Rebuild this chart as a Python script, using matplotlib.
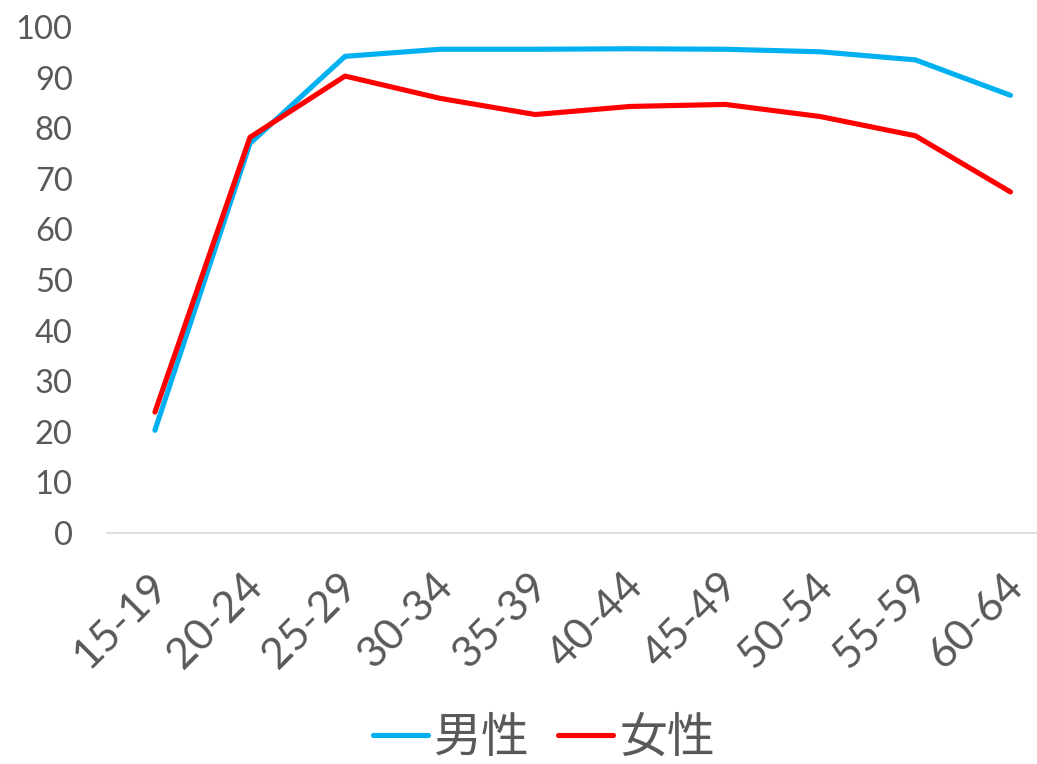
import matplotlib.pyplot as plt
import matplotlib.transforms as mtransforms

# Labour force participation by age group (%)
age_groups = ['15-19', '20-24', '25-29', '30-34', '35-39',
              '40-44', '45-49', '50-54', '55-59', '60-64']
male = [20.3, 77.0, 94.2, 95.6, 95.6, 95.7, 95.6, 95.1, 93.5, 86.5]
female = [23.9, 78.2, 90.3, 85.9, 82.7, 84.3, 84.7, 82.3, 78.5, 67.4]
y_ticks = [0, 10, 20, 30, 40, 50, 60, 70, 80, 90, 100]

W, H = 1037, 764
fig = plt.figure(figsize=(W / 100, H / 100), dpi=100)

# plot area runs a bit past the right edge of the picture (cropped chart)
left, right = 107.4, 1058.0
bottom, top = 533.0, 27.0
ax = fig.add_axes([left / W, 1 - bottom / H, (right - left) / W, (bottom - top) / H])

x = list(range(len(age_groups)))
ax.plot(x, male, color='#00B0F0', lw=3.7, solid_capstyle='round',
        solid_joinstyle='round', label='男性', clip_on=False)
ax.plot(x, female, color='#FF0000', lw=3.7, solid_capstyle='round',
        solid_joinstyle='round', label='女性', clip_on=False)

ax.set_xlim(-0.5, len(age_groups) - 0.5)
ax.set_ylim(0, 100)

for s in ['top', 'right', 'left']:
    ax.spines[s].set_visible(False)
ax.spines['bottom'].set_color('#D9D9D9')
ax.spines['bottom'].set_linewidth(1.2)

tick_font = ['Lato', 'DejaVu Sans']
ax.set_yticks(y_ticks)
ax.set_yticklabels([str(v) for v in y_ticks], family=tick_font,
                   fontsize=23.5, color='#595959')
ax.tick_params(axis='y', length=0, pad=25)

ax.set_xticks(x)
ax.set_xticklabels(age_groups, family=tick_font, fontsize=31,
                   color='#595959', rotation=45, ha='right', va='top',
                   rotation_mode='anchor')
ax.tick_params(axis='x', length=0, pad=24)
offset = mtransforms.ScaledTranslation(-7 / 100, 0, fig.dpi_scale_trans)
for lbl in ax.get_xticklabels():
    lbl.set_transform(lbl.get_transform() + offset)

leg = fig.legend(loc='center', bbox_to_anchor=(544 / W, 1 - 738 / H),
                 ncol=2, frameon=False, handlelength=1.15, handletextpad=0.12,
                 columnspacing=0.6, borderpad=0,
                 prop={'family': ['Noto Sans CJK JP', 'DejaVu Sans'], 'size': 34.5})
for t in leg.get_texts():
    t.set_color('#595959')
for h in leg.get_lines():
    h.set_solid_capstyle('round')

fig.savefig('out.png', dpi=100)
